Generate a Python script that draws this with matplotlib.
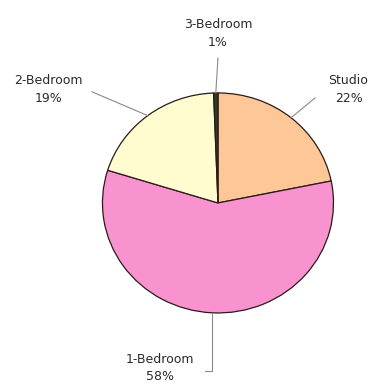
import matplotlib.pyplot as plt
import numpy as np

# unit mix shares (slice sizes) and printed labels
categories = ["Studio", "1-Bedroom", "2-Bedroom", "3-Bedroom"]
shares = [21.8, 58.0, 19.6, 0.6]
pct_labels = ["22%", "58%", "19%", "1%"]
colors = ["#FDC797", "#F993CF", "#FFFDCF", "#2E3B2A"]

fig = plt.figure(figsize=(3.7, 3.85), dpi=100)
ax = fig.add_axes([0, 0, 1, 1])

wedges, _ = ax.pie(shares, colors=colors, startangle=90, counterclock=False,
                   wedgeprops=dict(edgecolor="#2a1a1a", linewidth=0.9))

# pie is slightly wider than tall in the reference
ax.set_aspect("auto")
ax.set_xlim(-1.887, 1.316)
ax.set_ylim(-1.655, 1.845)
ax.axis("off")

lc = "#8a8a8a"
tkw = dict(fontsize=9, color="#2a2a2a", ha="center", va="center",
           multialignment="center", linespacing=1.45)


def edge(w, r=1.0):
    a = np.deg2rad((w.theta1 + w.theta2) / 2)
    return r * np.cos(a), r * np.sin(a)


# Studio
ex, ey = edge(wedges[0])
ax.plot([ex, 0.84], [ey, 0.955], color=lc, lw=0.8)
ax.text(1.13, 1.03, f"{categories[0]}\n{pct_labels[0]}", **tkw)

# 1-Bedroom
ex, ey = edge(wedges[1])
ax.plot([ex, ex, -0.11], [ey, -1.53, -1.53], color=lc, lw=0.8)
ax.text(-0.50, -1.50, f"{categories[1]}\n{pct_labels[1]}", **tkw)

# 2-Bedroom
ex, ey = edge(wedges[2])
ax.plot([ex, -1.09], [ey, 1.01], color=lc, lw=0.8)
ax.text(-1.47, 1.03, f"{categories[2]}\n{pct_labels[2]}", **tkw)

# 3-Bedroom
ex, ey = edge(wedges[3])
ax.plot([ex, 0.0], [ey, 1.318], color=lc, lw=0.8)
ax.text(0.0, 1.54, f"{categories[3]}\n{pct_labels[3]}", **tkw)

fig.savefig("out.png", dpi=100)
